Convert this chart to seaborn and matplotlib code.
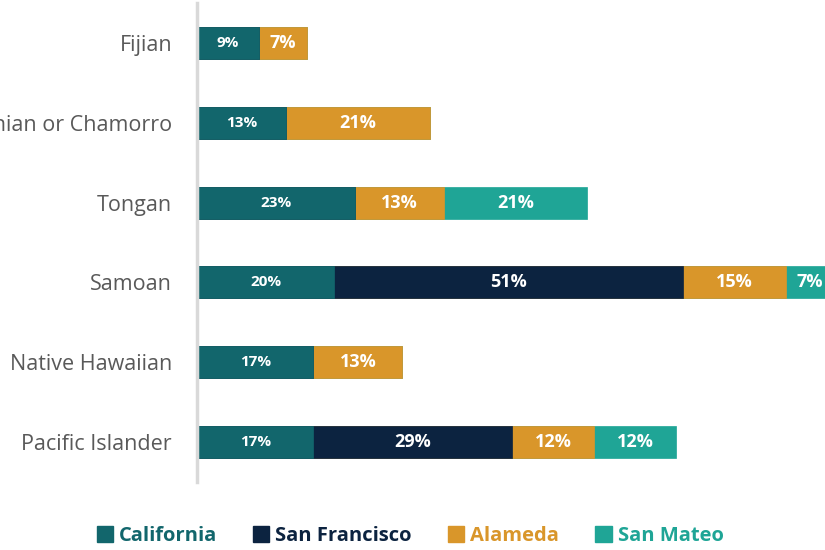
import seaborn as sns
import matplotlib.pyplot as plt
import pandas as pd
import numpy as np
from matplotlib.patches import Patch

groups = ["Fijian", "Guamanian or Chamorro", "Tongan", "Samoan", "Native Hawaiian", "Pacific Islander"]
series = ["California", "San Francisco", "Alameda", "San Mateo"]
california = [9, 13, 23, 20, 17, 17]
san_francisco = [0, 0, 0, 51, 0, 29]
alameda = [7, 21, 13, 15, 13, 12]
san_mateo = [0, 0, 21, 7, 0, 12]
colors = ["#12666c", "#0c2340", "#d9962a", "#1fa596"]

sns.set_theme(style="white")
plt.rcParams['font.family'] = ['Open Sans', 'DejaVu Sans']

df = pd.DataFrame({"group": groups, "California": california, "San Francisco": san_francisco,
                   "Alameda": alameda, "San Mateo": san_mateo})
cum = df[series].cumsum(axis=1)

fig = plt.figure(figsize=(8.25, 5.5), dpi=100)
ax = fig.add_axes([197 / 825, 68 / 550, 1 - 197 / 825, 479 / 550])

# draw cumulative totals from the longest down so the shorter ones sit on top
for s, c in reversed(list(zip(series, colors))):
    sns.barplot(x=cum[s], y=df["group"], color=c, width=0.4, orient="h",
                saturation=1, ax=ax, edgecolor=c, linewidth=0.5)

# segment labels
for i, s in enumerate(series):
    for j, v in enumerate(df[s]):
        if v == 0:
            continue
        start = cum[s][j] - v
        size = 11 if s == "California" else 13
        ax.text(start + v / 2, j, f"{v}%", ha="center", va="center", color="white",
                fontsize=size, fontweight="bold")

ax.set_xlim(0, 91.7)
ax.set_ylim(5.5, -0.5)
ax.set_xlabel("")
ax.set_ylabel("")
ax.set_xticks([])
for sp in ["top", "right", "bottom"]:
    ax.spines[sp].set_visible(False)
ax.spines["left"].set_color("#d9d9d9")
ax.spines["left"].set_linewidth(2.5)
ax.tick_params(axis="y", length=0, pad=18, labelsize=15.5, labelcolor="#595959")
ax.patch.set_alpha(0)

handles = [Patch(facecolor=c, edgecolor=c) for c in colors]
leg = fig.legend(handles, series, loc="center", bbox_to_anchor=(410 / 825, 1 - 536 / 550),
                 ncol=4, frameon=False, handlelength=0.8, handleheight=0.8,
                 handletextpad=0.3, columnspacing=1.8,
                 prop={"size": 14.5, "weight": "bold"})
for t, c in zip(leg.get_texts(), colors):
    t.set_color(c)

fig.savefig("out.png", dpi=100)
